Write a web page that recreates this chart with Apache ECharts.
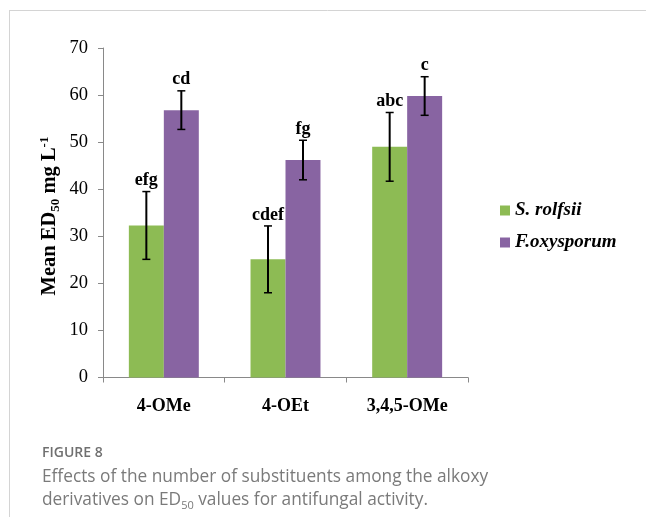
<!DOCTYPE html>
<html>
<head>
<meta charset="utf-8">
<script src="https://cdn.jsdelivr.net/npm/echarts@6/dist/echarts.min.js"></script>
<style>
html,body{margin:0;padding:0;background:#fff;}
#chart{width:646px;height:517px;}
</style>
</head>
<body>
<div id="chart"></div>
<script>
const categories = ['4-OMe', '4-OEt', '3,4,5-OMe'];
const rolfsii = [32.3, 25.1, 49.0];
const rolfsiiErr = [7.2, 7.1, 7.3];
const rolfsiiLetters = ['efg', 'cdef', 'abc'];
const oxysporum = [56.8, 46.2, 59.8];
const oxysporumErr = [4.1, 4.2, 4.1];
const oxysporumLetters = ['cd', 'fg', 'c'];
const yTicks = [0, 10, 20, 30, 40, 50, 60, 70];

const serif = '"Liberation Serif", "Times New Roman", serif';
const sans = '"Open Sans", "Noto Sans", sans-serif';

function errRenderer(sign, letters) {
  return function (params, api) {
    const i = api.value(0), v = api.value(1), e = api.value(2);
    const bw = api.size([1, 0])[0];
    const c = api.coord([i, v]);
    const x = c[0] + sign * bw * 0.14375;
    const top = api.coord([i, v + e])[1];
    const bot = api.coord([i, v - e])[1];
    const cap = 4;
    return {
      type: 'group',
      children: [
        { type: 'line', shape: { x1: x, y1: top, x2: x, y2: bot }, style: { stroke: '#000', lineWidth: 2 } },
        { type: 'line', shape: { x1: x - cap, y1: top, x2: x + cap, y2: top }, style: { stroke: '#000', lineWidth: 1.5 } },
        { type: 'line', shape: { x1: x - cap, y1: bot, x2: x + cap, y2: bot }, style: { stroke: '#000', lineWidth: 1.5 } },
        { type: 'text', x: x, y: top - 2, style: { text: letters[i], align: 'center', verticalAlign: 'bottom', font: 'bold 18px ' + serif, fill: '#000' } }
      ]
    };
  };
}

const chart = echarts.init(document.getElementById('chart'), null, { renderer: 'canvas' });
chart.setOption({
  backgroundColor: '#fff',
  animation: false,
  grid: { left: 103, right: 178, top: 48, bottom: 139.5, containLabel: false },
  legend: {
    orient: 'vertical', left: 495, top: 196,
    itemWidth: 10, itemHeight: 10, itemGap: 13,
    icon: 'rect',
    data: ['S. rolfsii', 'F.oxysporum'],
    textStyle: { fontFamily: serif, fontSize: 19, fontWeight: 'bold', fontStyle: 'italic', color: '#000' }
  },
  xAxis: {
    type: 'category', data: categories,
    axisLine: { lineStyle: { color: '#898989', width: 1 } },
    axisTick: { show: true, length: 5, lineStyle: { color: '#898989' } },
    axisLabel: { fontFamily: serif, fontSize: 18, fontWeight: 'bold', color: '#000', margin: 20 }
  },
  yAxis: {
    type: 'value', min: 0, max: 70, interval: 10,
    axisLine: { show: true, lineStyle: { color: '#898989', width: 1 } },
    axisTick: { show: true, length: 5, lineStyle: { color: '#898989' } },
    splitLine: { show: false },
    axisLabel: { fontFamily: serif, fontSize: 18.5, color: '#000', margin: 15,
      formatter: function (v) { return yTicks.indexOf(v) >= 0 ? String(v) : ''; } }
  },
  series: [
    { name: 'S. rolfsii', type: 'bar', data: rolfsii, barGap: '0%', barCategoryGap: '42.5%',
      itemStyle: { color: '#8dbb54' } },
    { name: 'F.oxysporum', type: 'bar', data: oxysporum, barGap: '0%', barCategoryGap: '42.5%',
      itemStyle: { color: '#8864a2' } },
    { name: 'errS', type: 'custom', renderItem: errRenderer(-1, rolfsiiLetters),
      data: categories.map((c, i) => [i, rolfsii[i], rolfsiiErr[i]]), z: 5 },
    { name: 'errF', type: 'custom', renderItem: errRenderer(1, oxysporumLetters),
      data: categories.map((c, i) => [i, oxysporum[i], oxysporumErr[i]]), z: 5 }
  ],
  graphic: [
    { type: 'line', shape: { x1: 9, y1: 10.5, x2: 646, y2: 10.5 }, style: { stroke: '#d4d4d4', lineWidth: 1 } },
    { type: 'line', shape: { x1: 9.5, y1: 10, x2: 9.5, y2: 517 }, style: { stroke: '#d4d4d4', lineWidth: 1 } },
    { type: 'text', x: 50, y: 216, rotation: Math.PI / 2,
      style: {
        text: '{a|Mean ED}{s|50}{a| mg L}{p|-1}',
        align: 'center', verticalAlign: 'middle', fill: '#000',
        rich: {
          a: { fontFamily: serif, fontSize: 20.5, fontWeight: 'bold', lineHeight: 24, fill: '#000' },
          s: { fontFamily: serif, fontSize: 13, fontWeight: 'bold', lineHeight: 13, verticalAlign: 'bottom', fill: '#000' },
          p: { fontFamily: serif, fontSize: 13, fontWeight: 'bold', lineHeight: 13, verticalAlign: 'top', fill: '#000' }
        }
      } },
    { type: 'text', x: 42, y: 453, style: { text: 'FIGURE 8', font: '600 14px ' + sans, fill: '#707070', verticalAlign: 'middle' } },
    { type: 'text', x: 42, y: 477, style: { text: 'Effects of the number of substituents among the alkoxy', font: '17.3px ' + sans, fill: '#7a7a7a', verticalAlign: 'middle' } },
    { type: 'text', x: 42, y: 500, style: {
        text: '{t|derivatives on ED}{s|50}{t| values for antifungal activity.}', verticalAlign: 'middle',
        rich: {
          t: { fontFamily: sans, fontSize: 17.3, fill: '#7a7a7a', lineHeight: 22 },
          s: { fontFamily: sans, fontSize: 11, fill: '#7a7a7a', lineHeight: 12, verticalAlign: 'bottom' }
        }
      } }
  ]
});
</script>
</body>
</html>
